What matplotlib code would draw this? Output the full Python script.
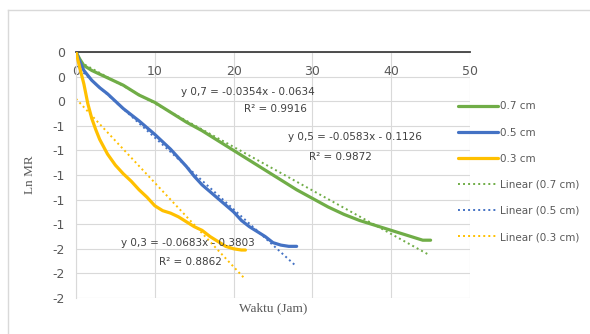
import numpy as np
import matplotlib
matplotlib.use('Agg')
import matplotlib.pyplot as plt
from matplotlib.lines import Line2D
from matplotlib.ticker import FuncFormatter

#%% data
x_07 = [0, 0.5, 1, 2, 3, 4, 5, 6, 7, 8, 9, 10, 12, 14, 16, 18, 20, 22, 24, 26, 28, 30,
        32, 34, 36, 38, 40, 42, 44, 45]
y_07 = [0, -0.06, -0.11, -0.15, -0.18, -0.21, -0.24, -0.27, -0.31, -0.35, -0.38, -0.41,
        -0.49, -0.57, -0.64, -0.72, -0.80, -0.88, -0.96, -1.04, -1.12, -1.19,
        -1.26, -1.32, -1.37, -1.41, -1.45, -1.49, -1.53, -1.53]
x_05 = [0, 0.5, 1, 2, 3, 4, 5, 6, 8, 10, 12, 14, 15, 16, 18, 20, 21, 22, 24, 25, 26, 27, 28]
y_05 = [0, -0.08, -0.15, -0.23, -0.29, -0.34, -0.40, -0.46, -0.56, -0.67, -0.79, -0.93,
        -1.01, -1.08, -1.19, -1.30, -1.37, -1.42, -1.50, -1.55, -1.57, -1.58, -1.58]
x_03 = [0, 0.3, 0.6, 1, 1.5, 2, 2.5, 3, 4, 5, 6, 7, 8, 9, 10, 11, 12, 13, 14, 15, 16,
        17, 18, 19, 20, 21, 21.5]
y_03 = [0, -0.08, -0.16, -0.26, -0.42, -0.54, -0.63, -0.71, -0.83, -0.92, -0.99, -1.05,
        -1.12, -1.18, -1.25, -1.29, -1.31, -1.34, -1.38, -1.42, -1.45, -1.50, -1.54,
        -1.58, -1.60, -1.61, -1.61]

labels = ['0.7 cm', '0.5 cm', '0.3 cm']
slopes = [-0.0354, -0.0583, -0.0683]
intercepts = [-0.0634, -0.1126, -0.3803]
r2 = [0.9916, 0.9872, 0.8862]
fit_end = [44.7, 27.8, 21.3]
eq_names = ['y 0,7', 'y 0,5', 'y 0,3']
colors = ['#70AD47', '#4472C4', '#FFC000']

#%% figure
fig = plt.figure(figsize=(5.9, 3.34), dpi=100)
ax = fig.add_axes([76/590, 1-298/334, (470-76)/590, (298-52)/334])

series = [(x_07, y_07), (x_05, y_05), (x_03, y_03)]
handles = []
for (xs, ys), c, lab in zip(series, colors, labels):
    h, = ax.plot(xs, ys, color=c, lw=2.3, label=lab, solid_capstyle='round', zorder=3)
    handles.append(h)
for c, lab, m, b, xe in zip(colors, labels, slopes, intercepts, fit_end):
    xf = np.array([0, xe])
    h, = ax.plot(xf, m*xf + b, color=c, lw=1.4, ls=(0, (1, 1.6)), label='Linear (' + lab + ')', zorder=2)
    handles.append(h)

ax.set_xlim(0, 50)
ax.set_ylim(-2, 0)
ax.set_xticks(np.arange(0, 51, 10))
ax.set_yticks(np.linspace(-2, 0, 11))
ax.yaxis.set_major_formatter(FuncFormatter(lambda v, p: str(int(round(v)))))
ax.grid(True, color='#d9d9d9', lw=0.8)
ax.set_axisbelow(True)

ax.xaxis.set_ticks_position('top')
ax.tick_params(axis='x', length=0, labeltop=True, labelbottom=False, pad=-19,
               labelsize=9, labelcolor='#595959')
ax.tick_params(axis='y', length=0, labelsize=9, labelcolor='#595959', pad=8)
for s in ['bottom', 'right']:
    ax.spines[s].set_visible(False)
ax.spines['top'].set_color('#404040')
ax.spines['top'].set_linewidth(1.3)
ax.spines['left'].set_color('#d9d9d9')

ax.set_xlabel('Waktu (Jam)', family='Liberation Serif', fontsize=9.5, color='#595959', labelpad=3)
ax.set_ylabel('Ln MR', family='Liberation Serif', fontsize=9.5, color='#595959', labelpad=12)

# trendline equations
eq_pos = [(21.8, -0.325, 25.3, -0.46), (35.4, -0.69, 33.5, -0.85), (14.2, -1.55, 14.5, -1.71)]
for name, m, b, r, (ex, ey, rx, ry) in zip(eq_names, slopes, intercepts, r2, eq_pos):
    ax.text(ex, ey, f'{name} = {m:.4f}x - {-b:.4f}', ha='center', va='center',
            fontsize=7.5, color='#404040', zorder=4)
    ax.text(rx, ry, f'R² = {r:.4f}', ha='center', va='center', fontsize=7.5, color='#404040', zorder=4)

fig.legend(handles=handles, loc='upper left', bbox_to_anchor=(449/590, 1-92/334), frameon=False,
           fontsize=7.5, handlelength=3.8, labelspacing=1.55, handletextpad=0.2,
           labelcolor='#595959')

# chart area border
fig.add_artist(Line2D([8/590, 8/590], [0, 1-10/334], color='#d9d9d9', lw=1, transform=fig.transFigure))
fig.add_artist(Line2D([8/590, 1], [1-10/334, 1-10/334], color='#d9d9d9', lw=1, transform=fig.transFigure))

plt.savefig('out.png', dpi=100)
